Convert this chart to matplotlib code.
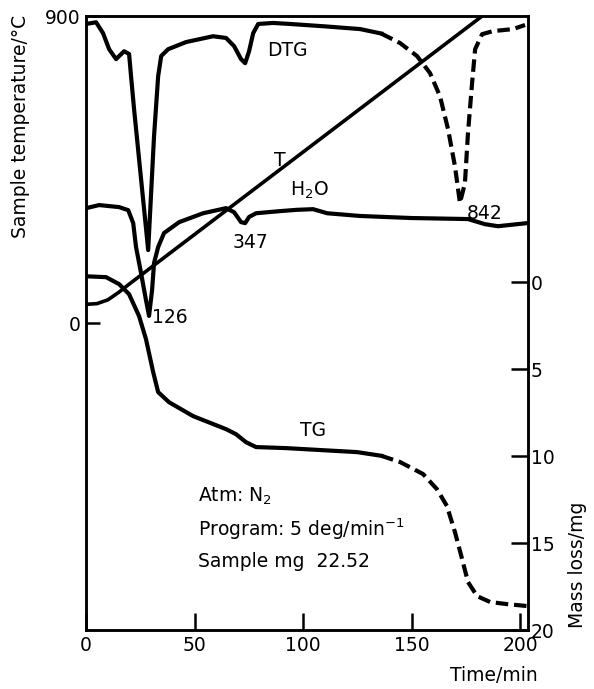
import numpy as np
import matplotlib
matplotlib.use("Agg")
import matplotlib.pyplot as plt

plt.rcParams['font.family'] = ['DejaVu Sans']

# sample temperature (left axis)
t_T = [0, 5, 10, 15, 20, 182.5]
T = [55, 57, 68, 90, 115, 900]

# DTG trace (arbitrary units on left scale)
t_dtg = [0, 4.6, 7.8, 10.6, 13.8, 17.5, 19.8, 20.7, 22.1, 28.6, 31.3, 33.2, 34.6,
         37.8, 46.1, 58.5, 64.5, 68.2, 71.4, 73.3, 75.1, 77.0, 79.3, 86.2, 94.0,
         110.0, 126.3, 136.0, 144.7, 152.5, 158.5, 163.1, 166.8, 170.0, 172.3,
         174.6, 176.0, 177.9, 179.3, 182.5, 187.5, 196.8, 202.3]
dtg = [877, 882, 850, 803, 774, 797, 789, 724, 627, 214, 548, 724, 783,
       803, 824, 841, 836, 812, 774, 762, 797, 850, 877, 880, 877,
       870, 862, 849, 821, 783, 733, 665, 569, 460, 352,
       410, 557, 704, 803, 847, 856, 862, 874]

# H2O trace
t_h2o = [0, 6.0, 15.2, 19.4, 21.7, 23.0, 25.3, 27.6, 29.0, 30.4, 31.3, 33.2, 35.9,
         42.9, 53.9, 64.5, 68.2, 71.4, 73.3, 75.1, 78.3, 88.9, 97.0, 104.6, 111.1,
         126.3, 150.0, 176.0, 183.8, 189.8, 203.2]
h2o = [337, 346, 340, 331, 293, 223, 147, 67, 21, 97, 176, 223, 264,
       296, 322, 337, 325, 296, 293, 311, 322, 328, 332, 334, 322,
       314, 308, 305, 290, 284, 293]

# TG trace (right axis, mass loss / mg)
t_tg = [0, 9.2, 15.2, 19.8, 24.4, 27.6, 30.9, 33.2, 38.2, 49.3, 64.5, 69.1, 73.7,
        78.3, 92.2, 109.2, 124.9, 136.0, 144.7, 155.3, 161.7, 166.3, 170.0, 173.3,
        176.0, 180.2, 186.2, 194.0, 203.2]
tg = [-0.34, -0.29, 0.11, 0.69, 1.95, 3.28, 5.17, 6.32, 6.90, 7.70, 8.45, 8.74, 9.20,
      9.48, 9.54, 9.66, 9.77, 9.98, 10.34, 11.03, 11.90, 12.87, 14.37, 15.92,
      17.24, 18.05, 18.39, 18.51, 18.62]

split = 136.0

fig = plt.figure(figsize=(5.94, 6.89), dpi=100)
ax = fig.add_axes([0.145, 0.0856, 0.744, 0.891])
ax2 = ax.twinx()

lw = 3.0
dash = (0, (3, 1.4))
ax.plot(t_T, T, color='black', lw=2.6)

t_dtg = np.array(t_dtg); dtg = np.array(dtg)
m = t_dtg <= split
ax.plot(t_dtg[m], dtg[m], color='black', lw=lw, solid_joinstyle='round')
m2 = t_dtg >= split
ax.plot(t_dtg[m2], dtg[m2], color='black', lw=lw, ls=dash)

ax.plot(t_h2o, h2o, color='black', lw=lw, solid_joinstyle='round')

t_tg = np.array(t_tg); tg = np.array(tg)
m = t_tg <= split
ax2.plot(t_tg[m], tg[m], color='black', lw=lw, solid_joinstyle='round')
m2 = t_tg >= split
ax2.plot(t_tg[m2], tg[m2], color='black', lw=lw, ls=dash)

ax.set_xlim(0, 203.7)
ax.set_ylim(-900, 900)
ax2.set_ylim(20.0, -15.3)

fs = 13.5
ax.set_xticks([0, 50, 100, 150, 200])
ax.set_yticks([0, 900])
ax2.set_yticks([0, 5, 10, 15, 20])
ax.tick_params(axis='x', direction='in', length=12, width=1.8, labelsize=fs, pad=4)
ax.tick_params(axis='y', direction='in', length=10, width=1.8, labelsize=fs, pad=4)
ax2.tick_params(axis='y', direction='in', length=12, width=1.8, labelsize=fs, pad=2)
for a in (ax, ax2):
    for s in a.spines.values():
        s.set_linewidth(1.8)

ax.text(83.4, 800, 'DTG', fontsize=fs, va='center', ha='left')
ax.text(89.4, 478, 'T', fontsize=fs, va='center', ha='center')
ax.text(94, 390, 'H$_2$O', fontsize=fs, va='center', ha='left')
ax.text(67.3, 237, '347', fontsize=fs, va='center', ha='left')
ax.text(30.5, 15, '126', fontsize=fs, va='center', ha='left')
ax.text(175.5, 320, '842', fontsize=fs, va='center', ha='left')
ax2.text(98.6, 9.1, 'TG', fontsize=fs, va='bottom', ha='left')
ax.text(51.6, -508, 'Atm: N$_2$', fontsize=fs, va='center', ha='left')
ax.text(51.6, -605, 'Program: 5 deg/min$^{-1}$', fontsize=fs, va='center', ha='left')
ax.text(51.6, -699, 'Sample mg  22.52', fontsize=fs, va='center', ha='left')

fig.text(0.034, 0.816, 'Sample temperature/\u00b0C', rotation=90, fontsize=fs,
         ha='center', va='center')
fig.text(0.973, 0.18, 'Mass loss/mg', rotation=90, fontsize=fs, ha='center', va='center')
fig.text(0.832, 0.02, 'Time/min', fontsize=fs, ha='center', va='center')

fig.savefig('out.png', dpi=100)
